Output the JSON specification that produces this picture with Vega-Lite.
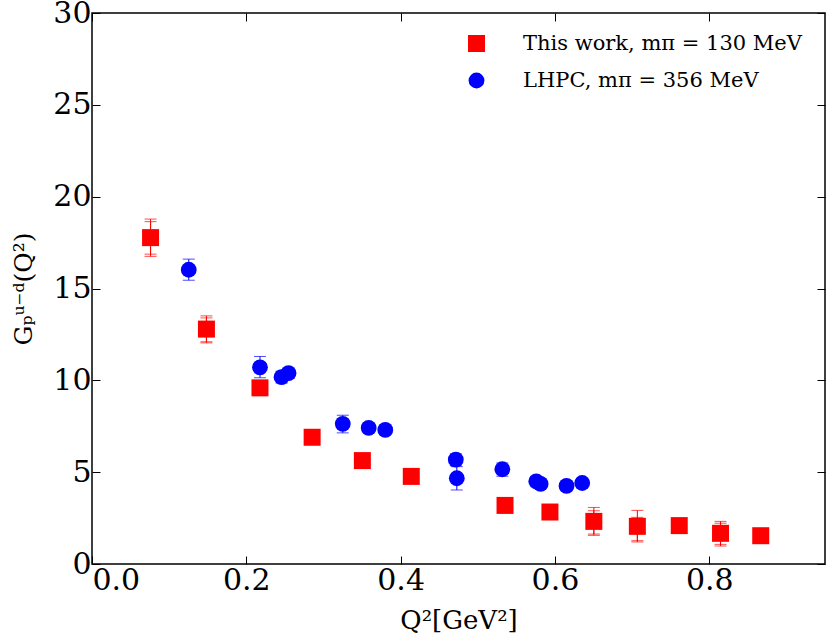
{
  "$schema": "https://vega.github.io/schema/vega-lite/v6.json",
  "width": 733,
  "height": 551,
  "autosize": {"type": "none"},
  "padding": {"left": 92, "top": 13, "right": 5, "bottom": 80},
  "config": {
    "font": "DejaVu Serif",
    "view": {"stroke": "black", "strokeWidth": 1.5},
    "axis": {
      "grid": false,
      "domain": false,
      "tickColor": "black",
      "tickSize": -8,
      "tickWidth": 1,
      "labelFont": "DejaVu Serif",
      "labelFontSize": 30,
      "labelColor": "black",
      "titleFont": "DejaVu Serif",
      "titleFontSize": 26,
      "titleFontWeight": "normal",
      "titleColor": "black"
    },
    "legend": {
      "orient": "none",
      "legendX": 374,
      "legendY": 20,
      "labelFont": "DejaVu Serif",
      "labelFontSize": 21,
      "labelColor": "black",
      "labelOffset": 36,
      "rowPadding": 15,
      "symbolSize": 260,
      "symbolOpacity": 1,
      "symbolStrokeWidth": 0,
      "labelLimit": 400
    }
  },
  "data": {
    "values": [
      {"series": "This work, mπ = 130 MeV", "q2": 0.0759, "g": 17.77, "lo": 16.75, "hi": 18.78, "slo": 16.87, "shi": 18.64},
      {"series": "This work, mπ = 130 MeV", "q2": 0.1483, "g": 12.79, "lo": 12.04, "hi": 13.51, "slo": 12.1, "shi": 13.4},
      {"series": "This work, mπ = 130 MeV", "q2": 0.2177, "g": 9.59, "lo": 9.3, "hi": 9.9},
      {"series": "This work, mπ = 130 MeV", "q2": 0.2853, "g": 6.9, "lo": 6.7, "hi": 7.1},
      {"series": "This work, mπ = 130 MeV", "q2": 0.3504, "g": 5.63, "lo": 5.45, "hi": 5.8},
      {"series": "This work, mπ = 130 MeV", "q2": 0.4138, "g": 4.77, "lo": 4.6, "hi": 4.95},
      {"series": "This work, mπ = 130 MeV", "q2": 0.5353, "g": 3.19, "lo": 3.0, "hi": 3.4},
      {"series": "This work, mπ = 130 MeV", "q2": 0.5935, "g": 2.83, "lo": 2.65, "hi": 3.0},
      {"series": "This work, mπ = 130 MeV", "q2": 0.6504, "g": 2.32, "lo": 1.56, "hi": 3.08, "slo": 1.63, "shi": 2.9},
      {"series": "This work, mπ = 130 MeV", "q2": 0.7068, "g": 2.05, "lo": 1.2, "hi": 2.92, "slo": 1.27, "shi": 2.54},
      {"series": "This work, mπ = 130 MeV", "q2": 0.7611, "g": 2.09, "lo": 1.9, "hi": 2.3},
      {"series": "This work, mπ = 130 MeV", "q2": 0.8146, "g": 1.67, "lo": 0.98, "hi": 2.32, "slo": 1.07, "shi": 2.22},
      {"series": "This work, mπ = 130 MeV", "q2": 0.8667, "g": 1.54, "lo": 1.35, "hi": 1.7},
      {"series": "LHPC, mπ = 356 MeV", "q2": 0.1254, "g": 16.02, "lo": 15.45, "hi": 16.6},
      {"series": "LHPC, mπ = 356 MeV", "q2": 0.2177, "g": 10.71, "lo": 10.14, "hi": 11.3},
      {"series": "LHPC, mπ = 356 MeV", "q2": 0.2457, "g": 10.17, "lo": 9.85, "hi": 10.5},
      {"series": "LHPC, mπ = 356 MeV", "q2": 0.2547, "g": 10.39, "lo": 10.1, "hi": 10.65},
      {"series": "LHPC, mπ = 356 MeV", "q2": 0.325, "g": 7.63, "lo": 7.14, "hi": 8.1},
      {"series": "LHPC, mπ = 356 MeV", "q2": 0.3586, "g": 7.41, "lo": 7.15, "hi": 7.65},
      {"series": "LHPC, mπ = 356 MeV", "q2": 0.3801, "g": 7.3, "lo": 7.05, "hi": 7.55},
      {"series": "LHPC, mπ = 356 MeV", "q2": 0.4715, "g": 5.68, "lo": 5.35, "hi": 6.0},
      {"series": "LHPC, mπ = 356 MeV", "q2": 0.4728, "g": 4.67, "lo": 4.03, "hi": 5.3},
      {"series": "LHPC, mπ = 356 MeV", "q2": 0.5318, "g": 5.16, "lo": 4.78, "hi": 5.5},
      {"series": "LHPC, mπ = 356 MeV", "q2": 0.5758, "g": 4.5, "lo": 4.25, "hi": 4.75},
      {"series": "LHPC, mπ = 356 MeV", "q2": 0.5814, "g": 4.36, "lo": 4.1, "hi": 4.6},
      {"series": "LHPC, mπ = 356 MeV", "q2": 0.615, "g": 4.25, "lo": 4.0, "hi": 4.5},
      {"series": "LHPC, mπ = 356 MeV", "q2": 0.6353, "g": 4.41, "lo": 4.15, "hi": 4.65}
    ]
  },
  "resolve": {"axis": {"x": "independent", "y": "independent"}},
  "layer": [
    {
      "mark": {"type": "errorbar", "ticks": {"size": 12, "thickness": 1}, "rule": {"strokeWidth": 1}},
      "encoding": {
        "x": {
          "field": "q2",
          "type": "quantitative",
          "scale": {"domain": [0, 0.95], "nice": false, "zero": false},
          "axis": {"values": [0, 0.2, 0.4, 0.6, 0.8], "format": ".1f", "title": "Q²[GeV²]", "labelPadding": 9, "titlePadding": 12}
        },
        "y": {
          "field": "lo",
          "type": "quantitative",
          "scale": {"domain": [0, 30], "nice": false},
          "axis": {"values": [0, 5, 10, 15, 20, 25, 30], "title": "Gₚᵘ⁻ᵈ(Q²)", "titleFontSize": 25, "labelPadding": 9, "titlePadding": 16}
        },
        "y2": {"field": "hi"},
        "color": {
          "field": "series",
          "type": "nominal",
          "scale": {"domain": ["This work, mπ = 130 MeV", "LHPC, mπ = 356 MeV"], "range": ["#ff0000", "#0000ff"]},
          "legend": {"title": null}
        }
      }
    },
    {
      "transform": [{"filter": "datum.slo != null"}],
      "mark": {"type": "errorbar", "color": "#ff0000", "ticks": {"size": 12, "thickness": 1}, "rule": {"strokeWidth": 1}},
      "encoding": {
        "x": {"field": "q2", "type": "quantitative", "axis": null},
        "y": {"field": "slo", "type": "quantitative", "axis": null},
        "y2": {"field": "shi"}
      }
    },
    {
      "mark": {"type": "point", "filled": true, "opacity": 1, "strokeWidth": 0},
      "encoding": {
        "x": {"field": "q2", "type": "quantitative", "axis": null},
        "y": {"field": "g", "type": "quantitative", "axis": null},
        "color": {
          "field": "series",
          "type": "nominal",
          "scale": {"domain": ["This work, mπ = 130 MeV", "LHPC, mπ = 356 MeV"], "range": ["#ff0000", "#0000ff"]},
          "legend": {"title": null}
        },
        "shape": {
          "field": "series",
          "type": "nominal",
          "scale": {"domain": ["This work, mπ = 130 MeV", "LHPC, mπ = 356 MeV"], "range": ["square", "circle"]},
          "legend": {"title": null}
        },
        "size": {
          "field": "series",
          "type": "nominal",
          "scale": {"domain": ["This work, mπ = 130 MeV", "LHPC, mπ = 356 MeV"], "range": [289, 250]},
          "legend": null
        }
      }
    },
    {
      "mark": {"type": "point", "opacity": 0},
      "encoding": {
        "x": {"field": "q2", "type": "quantitative", "axis": {"orient": "top", "values": [0, 0.2, 0.4, 0.6, 0.8], "labels": false, "title": null}},
        "y": {"field": "g", "type": "quantitative", "axis": {"orient": "right", "values": [0, 5, 10, 15, 20, 25, 30], "labels": false, "title": null}}
      }
    }
  ]
}
